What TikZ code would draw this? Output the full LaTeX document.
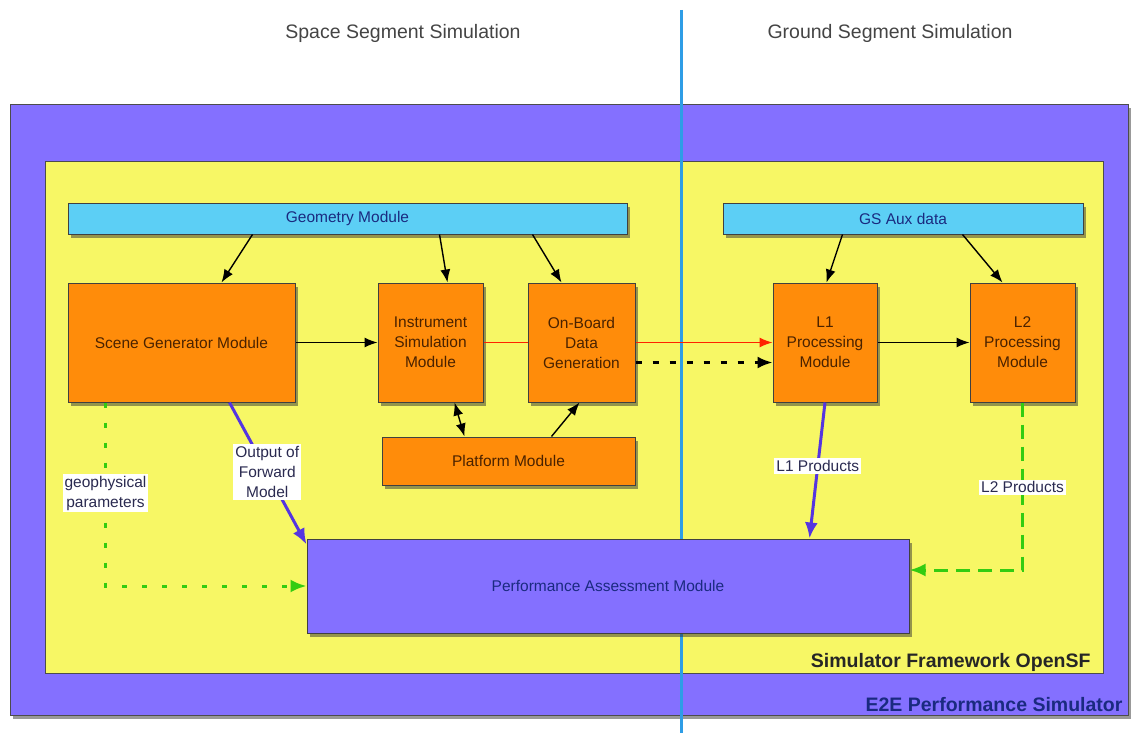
\documentclass[tikz,border=0pt]{standalone}
\usepackage{fontspec}
\setmainfont{Liberation Sans}
\usetikzlibrary{calc,arrows.meta,shadows}
\definecolor{outerpurple}{HTML}{8470FF}
\definecolor{fwyellow}{HTML}{F7F765}
\definecolor{modorange}{HTML}{FF8C0A}
\definecolor{auxblue}{HTML}{5CCFF5}
\definecolor{divblue}{HTML}{2E9DE6}
\definecolor{arrpurple}{HTML}{5535E0}
\definecolor{arrgreen}{HTML}{33CC11}
\definecolor{arrred}{HTML}{FF2200}
\definecolor{titlegrey}{HTML}{444444}
\definecolor{brown}{HTML}{4A2200}
\definecolor{navy}{HTML}{1A2A80}
\definecolor{lbltext}{HTML}{2A2A50}
\newcommand{\modfont}{\fontsize{15.5}{20}\selectfont}
\newcommand{\ttlfont}{\fontsize{19.5}{23}\selectfont}
\newcommand{\bigbold}{\fontsize{19.5}{23}\selectfont\bfseries}
\begin{document}
\begin{tikzpicture}[x=1pt,y=-1pt,
  shad/.style={drop shadow={shadow xshift=2.5pt,shadow yshift=-3.5pt,opacity=0.5,fill=black!80}},
  box/.style={draw=black!75,line width=1pt,inner sep=0pt,align=center,font=\modfont,shad},
  orangebox/.style={box,fill=modorange,text=brown},
  bluebox/.style={box,fill=auxblue,text=navy},
  lbl/.style={fill=white,inner sep=2pt,align=center,font=\modfont,text=lbltext},
  blk/.style={line width=1.4pt,-{Latex[length=13pt,width=10pt]}},
  purp/.style={draw=arrpurple,line width=3pt,-{Latex[length=16pt,width=13pt]}},
  grn/.style={draw=arrgreen,line width=3pt,-{Latex[length=16pt,width=13pt]}}
]
\useasboundingbox (0,0) rectangle (1133,733);
% titles
\node[font=\ttlfont,text=titlegrey] (t1) at (403,33) {Space Segment Simulation};
\node[font=\ttlfont,text=titlegrey] (t2) at (890,33) {Ground Segment Simulation};
% containers
\node[draw=black!70,line width=1pt,fill=outerpurple,minimum width=1118pt,minimum height=610pt,inner sep=0pt,shad] (outer) at (569,410) {};
\node[draw=black!70,line width=1pt,fill=fwyellow,minimum width=1058pt,minimum height=511pt,inner sep=0pt] (fw) at (574,417.5) {};
\node[font=\bigbold,text=black!85,anchor=east] (fwlbl) at (1094,662) {Simulator Framework OpenSF};
\node[font=\bigbold,text=navy,anchor=east] (e2elbl) at (1126,705) {E2E Performance Simulator};
% divider
\coordinate (dtop) at (681,10);
\coordinate (dbot) at (681,733);
\draw[divblue,line width=3pt] (dtop) -- (dbot);
% modules
\node[bluebox,minimum width=559pt,minimum height=31pt] (geo) at (347.5,218.5) {Geometry Module};
\node[bluebox,minimum width=360pt,minimum height=31pt] (gs) at (903,218.5) {GS Aux data};
\node[orangebox,minimum width=227pt,minimum height=119pt] (scene) at (181.5,342.5) {Scene Generator Module};
\node[orangebox,minimum width=105pt,minimum height=119pt] (instr) at (430.5,342.5) {Instrument\\Simulation\\Module};
\node[orangebox,minimum width=107pt,minimum height=119pt] (obdg) at (581.5,342.5) {On-Board\\Data\\Generation};
\node[orangebox,minimum width=253pt,minimum height=48pt] (plat) at (508.5,461) {Platform Module};
\node[orangebox,minimum width=104pt,minimum height=119pt] (l1) at (825,342.5) {L1\\Processing\\Module};
\node[orangebox,minimum width=105pt,minimum height=119pt] (l2) at (1022.5,342.5) {L2\\Processing\\Module};
\node[box,fill=outerpurple,text=navy,minimum width=602pt,minimum height=94pt] (pam) at (608,586) {Performance Assessment Module};
% black connectors
\draw[blk] ($(geo.south west)+(185,0)$) -- ($(scene.north west)+(154,0)$);
\draw[blk] ($(geo.south west)+(372,0)$) -- ($(instr.north west)+(70,0)$);
\draw[blk] ($(geo.south west)+(465,0)$) -- ($(obdg.north west)+(34,0)$);
\draw[blk] ($(gs.south west)+(120,0)$) -- ($(l1.north west)+(54,0)$);
\draw[blk] ($(gs.south west)+(240,0)$) -- ($(l2.north west)+(33,0)$);
\draw[blk] (scene.east) -- (instr.west);
\draw[blk] (l1.east) -- (l2.west);
\draw[line width=1.4pt,{Latex[length=13pt,width=10pt]}-{Latex[length=13pt,width=10pt]}] ($(instr.south west)+(77,0)$) -- ($(plat.north west)+(83,0)$);
\draw[blk] ($(plat.north west)+(170,0)$) -- ($(obdg.south west)+(52,0)$);
% red data flow
\draw[arrred,line width=1.4pt] (instr.east) -- (obdg.west);
\draw[arrred,blk] (obdg.east) -- (l1.west);
\draw[line width=2.5pt,dash pattern=on 6pt off 11pt,-{Latex[length=15pt,width=12pt]}] ($(obdg.east)+(0,20)$) -- ($(l1.west)+(0,20)$);
% outputs
\draw[purp] ($(scene.south west)+(162,0)$) -- ($(pam.north west)+(0,6)$)
  node[lbl,pos=0.49] (lfwd) {Output of\\Forward\\Model};
\draw[purp] (l1.south) -- ($(pam.north west)+(503,0)$)
  node[lbl,pos=0.467] (ll1) {L1 Products};
\draw[grn,dash pattern=on 5pt off 15pt] ($(scene.south west)+(38,0)$) |- (pam.west)
  node[lbl,pos=0.247] (lgeo) {geophysical\\parameters};
\draw[grn,dash pattern=on 14pt off 8pt] (l2.south) |- ($(pam.east)+(0,-16)$)
  node[lbl,pos=0.253] (ll2) {L2 Products};
\end{tikzpicture}
\end{document}
